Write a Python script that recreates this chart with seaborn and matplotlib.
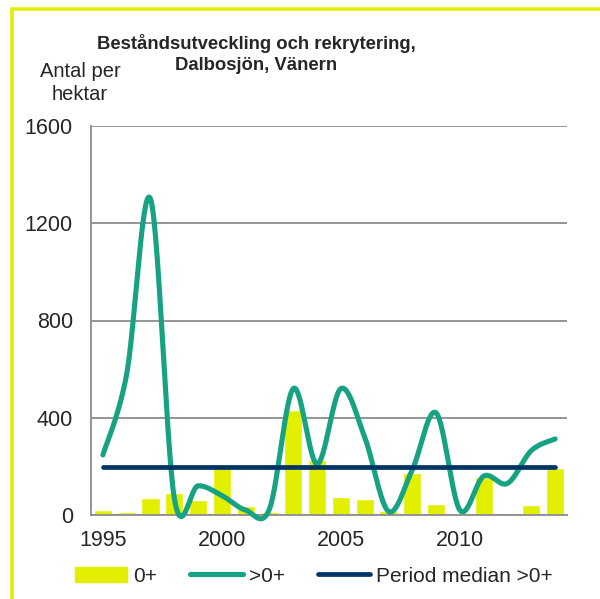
import numpy as np
import pandas as pd
import matplotlib
matplotlib.use("Agg")
import matplotlib.pyplot as plt
from matplotlib.patches import Rectangle, Patch
from matplotlib.lines import Line2D
import seaborn as sns

# data
years = list(range(1995, 2015))
recruits = [20, 12, 71, 91, 63, 192, 37, 12, 432, 226,
            72, 67, 15, 172, 46, 8, 155, 2, 40, 195]          # 0+
older = [247, 580, 1300, 70, 120, 80, 20, 25, 520, 210,
         520, 320, 15, 186, 420, 20, 160, 130, 265, 313]      # >0+
tick_years = [1995, 2000, 2005, 2010]
y_ticks = [0, 400, 800, 1200, 1600]

bar_col = "#E2EF00"
line_col = "#17A383"
med_col = "#003466"
grid_col = "#8C8C8C"


# Excel style smoothed line (bezier through the points)
def smooth(xs, ys, n=30):
    xs = np.asarray(xs, float)
    ys = np.asarray(ys, float)
    px = np.concatenate([[xs[0]], xs, [xs[-1]]])
    py = np.concatenate([[ys[0]], ys, [ys[-1]]])
    outx, outy = [], []
    t = np.linspace(0, 1, n)
    for i in range(1, len(px) - 2):
        p0, p1, p2, p3 = py[i - 1], py[i], py[i + 1], py[i + 2]
        c1 = p1 + (p2 - p0) / 6
        c2 = p2 - (p3 - p1) / 6
        yy = (1 - t) ** 3 * p1 + 3 * (1 - t) ** 2 * t * c1 + 3 * (1 - t) * t ** 2 * c2 + t ** 3 * p2
        q0, q1, q2, q3 = px[i - 1], px[i], px[i + 1], px[i + 2]
        d1 = q1 + (q2 - q0) / 6
        d2 = q2 - (q3 - q1) / 6
        xx = (1 - t) ** 3 * q1 + 3 * (1 - t) ** 2 * t * d1 + 3 * (1 - t) * t ** 2 * d2 + t ** 3 * q2
        outx.extend(xx)
        outy.extend(yy)
    return np.array(outx), np.array(outy)


df = pd.DataFrame({"year": [str(y) for y in years], "recruits": recruits, "older": older})
median_val = float(np.median(older))

sns.set_theme(style="white")
plt.rcParams["font.family"] = ["Liberation Sans", "DejaVu Sans"]

fig = plt.figure(figsize=(6, 5.99), dpi=100)
ax = fig.add_axes([91 / 600, 84 / 599, 476 / 600, 389 / 599])

sns.barplot(data=df, x="year", y="recruits", color=bar_col, width=0.77,
            saturation=1, ax=ax, zorder=2)

pos = np.arange(len(years))
sx, sy = smooth(pos, older)
sns.lineplot(x=sx, y=sy, sort=False, color=line_col, lw=3.7, ax=ax, zorder=3,
             solid_capstyle="round", clip_on=False)
sns.lineplot(x=[pos[0], pos[-1]], y=[median_val, median_val], color=med_col,
             lw=3.4, ax=ax, zorder=4, solid_capstyle="round")

ax.set_xlim(-0.5, len(years) - 0.5)
ax.set_ylim(0, 1600)
ax.set_yticks(y_ticks)
ax.set_yticklabels([str(v) for v in y_ticks], fontsize=15.5)
ax.set_xticks([years.index(y) for y in tick_years])
ax.set_xticklabels([str(y) for y in tick_years], fontsize=15.5)
ax.set_xticks([-0.5, 4.5, 9.5, 14.5, 19.5], minor=True)
ax.tick_params(axis="x", which="major", length=0, pad=11)
ax.tick_params(axis="x", which="minor", length=6, width=1.3, color=grid_col, direction="out")
ax.tick_params(axis="y", length=0, pad=13)
ax.yaxis.grid(True, color=grid_col, lw=1.3)
ax.set_axisbelow(True)
ax.set_xlabel("")
ax.set_ylabel("")
for s in ["top", "right"]:
    ax.spines[s].set_visible(False)
for s in ["left", "bottom"]:
    ax.spines[s].set_color(grid_col)
    ax.spines[s].set_linewidth(1.3)

fig.text(256 / 600, 1 - 54 / 599, "Beståndsutveckling och rekrytering,\nDalbosjön, Vänern",
         ha="center", va="center", fontsize=13.3, fontweight="bold", linespacing=1.3)
fig.text(80 / 600, 1 - 83 / 599, "Antal per\nhektar", ha="center", va="center",
         fontsize=14.5, linespacing=1.3)

handles = [Patch(color=bar_col),
           Line2D([], [], color=line_col, lw=3.7, solid_capstyle="round"),
           Line2D([], [], color=med_col, lw=3.4, solid_capstyle="round")]
fig.legend(handles, ["0+", ">0+", "Period median >0+"], loc="center",
           bbox_to_anchor=(314 / 600, 23 / 599), ncol=3, frameon=False,
           fontsize=15, handlelength=2.5, handletextpad=0.3, columnspacing=1.6)

# yellow frame (only top and left are inside the image)
fig.patches.append(Rectangle((11.5 / 600, -0.1), 1.2, 1 - 8.5 / 599 + 0.1,
                             transform=fig.transFigure, fill=False,
                             edgecolor=bar_col, lw=2.6))

fig.savefig("out.png", dpi=100)
